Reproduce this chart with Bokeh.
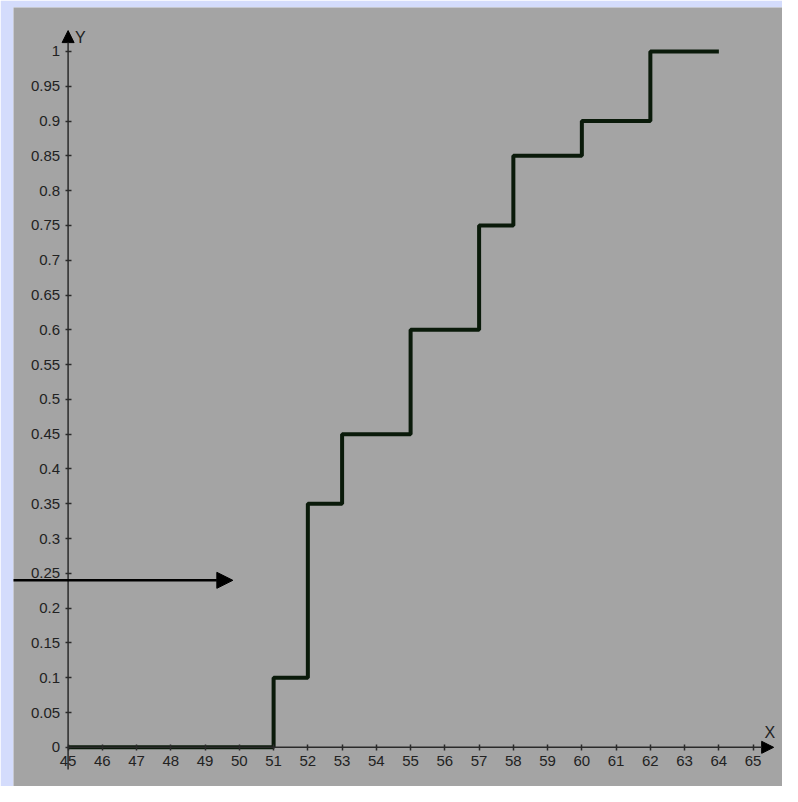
from bokeh.plotting import figure
from bokeh.models import (LinearAxis, FixedTicker, Range1d, Arrow, NormalHead,
                          Label)
from bokeh.embed import file_html
from bokeh.resources import INLINE

# ---- data ----
step_x = [45, 51, 52, 53, 55, 57, 58, 60, 62, 64]
step_y = [0, 0.1, 0.35, 0.45, 0.6, 0.75, 0.85, 0.9, 1.0, 1.0]

x_ticks = list(range(45, 66))
x_tick_labels = [str(t) for t in x_ticks]
y_ticks = [0, 0.05, 0.1, 0.15, 0.2, 0.25, 0.3, 0.35, 0.4, 0.45, 0.5,
           0.55, 0.6, 0.65, 0.7, 0.75, 0.8, 0.85, 0.9, 0.95, 1]
y_tick_labels = ["0", "0.05", "0.1", "0.15", "0.2", "0.25", "0.3", "0.35",
                 "0.4", "0.45", "0.5", "0.55", "0.6", "0.65", "0.7", "0.75",
                 "0.8", "0.85", "0.9", "0.95", "1"]
pointer_y = 0.24
pointer_x_end = 49.81

FONT = "Liberation Sans"
TXT = "#222222"
AX = "#2a2a2a"

p = figure(width=782, height=786, output_backend="svg", toolbar_location=None,
           x_axis_location=None, y_axis_location=None,
           x_range=Range1d(43.406, 65.858), y_range=Range1d(-0.0563, 1.0632),
           min_border_left=13, min_border_right=0, min_border_top=7,
           min_border_bottom=0)
p.background_fill_color = "#a4a4a4"
p.border_fill_color = "#d4dcfc"
p.outline_line_color = None
p.grid.visible = False

def style(ax):
    ax.axis_line_color = None
    ax.major_tick_line_color = AX
    ax.major_tick_line_width = 1.5
    ax.major_tick_in = 3
    ax.major_tick_out = 3
    ax.minor_tick_line_color = None
    ax.major_label_text_font = FONT
    ax.major_label_text_font_size = "15px"
    ax.major_label_text_color = TXT

xaxis = LinearAxis(fixed_location=0, ticker=FixedTicker(ticks=x_ticks),
                   major_label_overrides={t: l for t, l in zip(x_ticks, x_tick_labels)})
style(xaxis)
xaxis.major_label_standoff = 6
p.add_layout(xaxis, "below")

yaxis = LinearAxis(fixed_location=45, ticker=FixedTicker(ticks=y_ticks),
                   major_label_overrides={t: l for t, l in zip(y_ticks, y_tick_labels)})
style(yaxis)
yaxis.major_label_standoff = 5
p.add_layout(yaxis, "left")

# axis lines with arrow heads
p.add_layout(Arrow(x_start=45, y_start=-0.032, x_end=45, y_end=1.03,
                   line_color=AX, line_width=1.5,
                   end=NormalHead(size=12, fill_color="black", line_color="black")))
p.add_layout(Arrow(x_start=45, y_start=0, x_end=65.6, y_end=0,
                   line_color=AX, line_width=1.5,
                   end=NormalHead(size=12, fill_color="black", line_color="black")))

p.add_layout(Label(x=45, y=1.03, x_offset=7, y_offset=2, text="Y",
                   text_baseline="top", text_align="left",
                   text_font=FONT, text_font_size="16px", text_color=TXT))
p.add_layout(Label(x=65.33, y=0.03, text="X", text_baseline="top",
                   text_align="left", y_offset=2,
                   text_font=FONT, text_font_size="16px", text_color=TXT))

# step function (empirical CDF)
p.step(step_x, step_y, mode="after", line_color="#0a1a0a", line_width=4)

# pointer arrow
p.add_layout(Arrow(x_start=43.0, y_start=pointer_y, x_end=pointer_x_end,
                   y_end=pointer_y, line_color="black", line_width=2.5,
                   end=NormalHead(size=16, fill_color="black", line_color="black")))

open("out.html", "w").write(file_html(p, INLINE))
